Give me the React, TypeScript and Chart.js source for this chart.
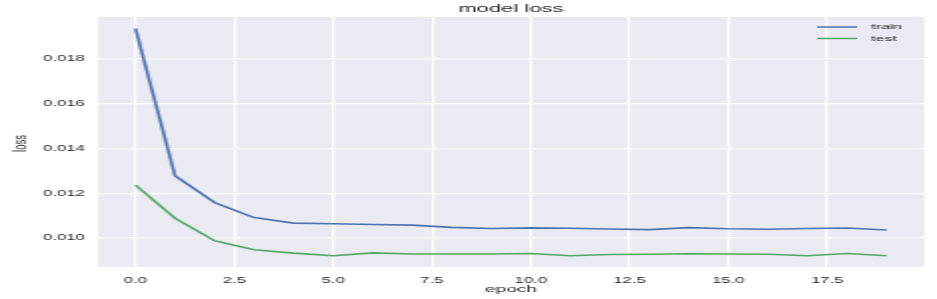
import React, { useEffect, useRef } from 'react';
import { Chart, registerables } from 'chart.js';

Chart.register(...registerables);

const TITLE = 'model loss';
const X_LABEL = 'epoch';
const Y_LABEL = 'loss';
const SERIES_NAMES = ['train', 'test'];
const SERIES_COLORS = ['#4C72B0', '#55A868'];

const EPOCHS = [0, 1, 2, 3, 4, 5, 6, 7, 8, 9, 10, 11, 12, 13, 14, 15, 16, 17, 18, 19];
const TRAIN_LOSS = [
  0.01937, 0.01279, 0.01159, 0.01092, 0.01067, 0.01064, 0.01061, 0.01058, 0.01048, 0.01043,
  0.01046, 0.01044, 0.01041, 0.01038, 0.01047, 0.01042, 0.0104, 0.01043, 0.01045, 0.01036,
];
const TEST_LOSS = [
  0.01237, 0.01089, 0.00988, 0.00948, 0.00933, 0.00921, 0.00934, 0.00929, 0.00929, 0.00929,
  0.00931, 0.00921, 0.00927, 0.00928, 0.0093, 0.00929, 0.00928, 0.00921, 0.00931, 0.00921,
];
const X_TICKS = [0, 2.5, 5, 7.5, 10, 12.5, 15, 17.5];
const Y_TICKS = [0.01, 0.012, 0.014, 0.016, 0.018];
const X_RANGE = [-0.95, 19.95];
const Y_RANGE = [0.00871, 0.01988];

// The reference image is horizontally stretched ~2x; render narrow, then stretch with CSS.
const OUT_W = 937;
const OUT_H = 299;
const CANVAS_W = 469;
const STRETCH = OUT_W / CANVAS_W;

const FONT = "'Liberation Sans', Arial, sans-serif";
const TEXT_COLOR = '#262626';

const decorPlugin = {
  id: 'decor',
  beforeDraw(chart: any) {
    const { ctx, chartArea } = chart;
    ctx.save();
    ctx.fillStyle = '#EAEAF2';
    ctx.fillRect(chartArea.left, chartArea.top, chartArea.right - chartArea.left, chartArea.bottom - chartArea.top);
    ctx.restore();
  },
  afterDraw(chart: any) {
    const { ctx, chartArea } = chart;
    const cx = (chartArea.left + chartArea.right) / 2;
    const cy = (chartArea.top + chartArea.bottom) / 2;
    ctx.save();
    ctx.fillStyle = TEXT_COLOR;
    ctx.textAlign = 'center';
    ctx.textBaseline = 'alphabetic';
    ctx.font = `11px ${FONT}`;
    ctx.fillText(TITLE, cx, 12);
    ctx.font = `9.5px ${FONT}`;
    ctx.fillText(X_LABEL, cx, 291.5);
    ctx.save();
    ctx.translate(12.5, cy + 1.5);
    ctx.rotate(-Math.PI / 2);
    ctx.fillText(Y_LABEL, 0, 0);
    ctx.restore();

    // legend
    const lx0 = 409;
    const lx1 = 429;
    const ys = [27, 38.5];
    ctx.font = `8px ${FONT}`;
    ctx.textAlign = 'left';
    ctx.textBaseline = 'middle';
    SERIES_NAMES.forEach((name, i) => {
      ctx.strokeStyle = SERIES_COLORS[i];
      ctx.lineWidth = 1.5;
      ctx.beginPath();
      ctx.moveTo(lx0, ys[i]);
      ctx.lineTo(lx1, ys[i]);
      ctx.stroke();
      ctx.fillStyle = TEXT_COLOR;
      ctx.fillText(name, 436, ys[i]);
    });
    ctx.restore();
  },
};

export default function App() {
  const canvasRef = useRef<HTMLCanvasElement | null>(null);

  useEffect(() => {
    document.body.style.margin = '0';
    const canvas = canvasRef.current;
    if (!canvas) return;
    const seriesData = [TRAIN_LOSS, TEST_LOSS];
    const chart = new Chart(canvas, {
      type: 'line',
      data: {
        datasets: SERIES_NAMES.map((name, i) => ({
          label: name,
          data: EPOCHS.map((e, j) => ({ x: e, y: seriesData[i][j] })),
          borderColor: SERIES_COLORS[i],
          backgroundColor: SERIES_COLORS[i],
          borderWidth: 1.6,
          pointRadius: 0,
          tension: 0,
          borderJoinStyle: 'round',
        })),
      },
      options: {
        responsive: false,
        animation: false,
        devicePixelRatio: 1,
        events: [],
        layout: { padding: { left: 0, right: 6.5, top: 17, bottom: 0 } },
        plugins: {
          legend: { display: false },
          title: { display: false },
          tooltip: { enabled: false },
        },
        scales: {
          x: {
            type: 'linear',
            min: X_RANGE[0],
            max: X_RANGE[1],
            afterBuildTicks: (scale: any) => {
              scale.ticks = X_TICKS.map((v) => ({ value: v }));
            },
            afterFit: (scale: any) => {
              scale.height = 32;
            },
            grid: { color: '#FFFFFF', lineWidth: 1.3, drawTicks: false },
            border: { display: false },
            ticks: {
              padding: 9,
              color: TEXT_COLOR,
              font: { family: FONT, size: 8.4 },
              maxRotation: 0,
              autoSkip: false,
              callback: (v: any) => Number(v).toFixed(1),
            },
          },
          y: {
            type: 'linear',
            min: Y_RANGE[0],
            max: Y_RANGE[1],
            afterBuildTicks: (scale: any) => {
              scale.ticks = Y_TICKS.map((v) => ({ value: v }));
            },
            afterFit: (scale: any) => {
              scale.width = 49;
            },
            grid: { color: '#FFFFFF', lineWidth: 1.3, drawTicks: false },
            border: { display: false },
            ticks: {
              padding: 6.5,
              color: TEXT_COLOR,
              font: { family: FONT, size: 8.4 },
              autoSkip: false,
              callback: (v: any) => Number(v).toFixed(3),
            },
          },
        },
      },
      plugins: [decorPlugin],
    });
    return () => chart.destroy();
  }, []);

  return (
    <div style={{ width: OUT_W, height: OUT_H, overflow: 'hidden', background: '#FFFFFF' }}>
      <div style={{ width: CANVAS_W, height: OUT_H, transform: `scaleX(${STRETCH})`, transformOrigin: '0 0' }}>
        <canvas ref={canvasRef} width={CANVAS_W} height={OUT_H} />
      </div>
    </div>
  );
}
